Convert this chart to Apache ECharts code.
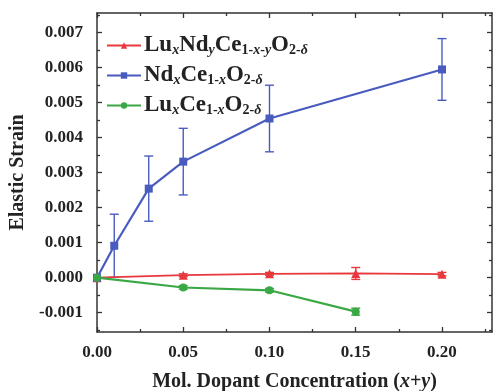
<!DOCTYPE html>
<html>
<head>
<meta charset="utf-8">
<script src="https://cdn.jsdelivr.net/npm/echarts@6/dist/echarts.min.js"></script>
<style>
  html, body { margin: 0; padding: 0; background: #fff; }
  #main { width: 494px; height: 391px; }
</style>
</head>
<body>
<div id="main"></div>
<script>
// data
var ndX = [0, 0.01, 0.03, 0.05, 0.10, 0.20];
var ndY = [0, 0.00091, 0.00254, 0.00331, 0.00454, 0.00594];
var ndErr = [0, 0.00090, 0.00093, 0.00095, 0.00095, 0.00088];

var luNdX = [0, 0.05, 0.10, 0.15, 0.20];
var luNdY = [0, 0.00007, 0.00011, 0.00012, 0.00010];
var luNdErr = [0, 0.00004, 0.00004, 0.00017, 0.00005];

var luX = [0, 0.05, 0.10, 0.15];
var luY = [0, -0.00028, -0.00036, -0.00097];
var luErr = [0, 0.00005, 0.00005, 0.00010];

var xTicks = [0, 0.05, 0.10, 0.15, 0.20];
var xMinorTicks = [0.025, 0.075, 0.125, 0.175, 0.225];
var yTicks = [-0.001, 0, 0.001, 0.002, 0.003, 0.004, 0.005, 0.006, 0.007];
var yMinorTicks = [-0.0015, -0.0005, 0.0005, 0.0015, 0.0025, 0.0035, 0.0045, 0.0055, 0.0065, 0.0075];

var RED = '#e8383d', BLUE = '#4a5bbf', GREEN = '#3aa844';
var FONT = 'Liberation Serif';

function pairs(xs, ys) {
    var out = [];
    for (var i = 0; i < xs.length; i++) out.push([xs[i], ys[i]]);
    return out;
}
function errData(xs, ys, es) {
    var out = [];
    for (var i = 0; i < xs.length; i++) {
        if (es[i] > 0) out.push([xs[i], ys[i] - es[i], ys[i] + es[i]]);
    }
    return out;
}
function errSeries(data, color) {
    return {
        type: 'custom',
        xAxisIndex: 0, yAxisIndex: 0,
        data: data,
        silent: true,
        z: 1,
        renderItem: function (params, api) {
            var lo = api.coord([api.value(0), api.value(1)]);
            var hi = api.coord([api.value(0), api.value(2)]);
            var w = 4.5;
            var st = { stroke: color, lineWidth: 1.4 };
            return {
                type: 'group',
                children: [
                    { type: 'line', shape: { x1: lo[0], y1: lo[1], x2: hi[0], y2: hi[1] }, style: st },
                    { type: 'line', shape: { x1: lo[0] - w, y1: lo[1], x2: lo[0] + w, y2: lo[1] }, style: st },
                    { type: 'line', shape: { x1: hi[0] - w, y1: hi[1], x2: hi[0] + w, y2: hi[1] }, style: st }
                ]
            };
        }
    };
}

var fmtNum = function (v) {
    return v < 0 ? '-' + Math.abs(v).toFixed(3) : v.toFixed(3);
};

var baseAxisLine = { show: true, onZero: false, lineStyle: { color: '#333', width: 1.5 } };
var noAxisLine = { show: false, onZero: false };
var labelStyle = { fontFamily: FONT, fontWeight: 'bold', fontSize: 17, color: '#222' };
var tickStyle = { color: '#333', width: 1.3 };

var subSt = { fontFamily: FONT, fontWeight: 'bold', fontSize: 14, color: '#222', padding: [9, 0, 0, 0] };
var rich = {
    m: { fontFamily: FONT, fontWeight: 'bold', fontSize: 23, color: '#222' },
    s: subSt,
    i: Object.assign({}, subSt, { fontStyle: 'italic' })
};
var legendNames = {
    'LuNd': '{m|Lu}{i|x}{m|Nd}{i|y}{m|Ce}{s|1-}{i|x}{s|-}{i|y}{m|O}{s|2-}{i|δ}',
    'Nd': '{m|Nd}{i|x}{m|Ce}{s|1-}{i|x}{m|O}{s|2-}{i|δ}',
    'Lu': '{m|Lu}{i|x}{m|Ce}{s|1-}{i|x}{m|O}{s|2-}{i|δ}'
};

var chart = echarts.init(document.getElementById('main'));
var option = {
    backgroundColor: '#fff',
    animation: false,
    grid: { left: 97, top: 13, right: 2, bottom: 59, containLabel: false, outerBoundsMode: 'none' },
    legend: {
        orient: 'vertical',
        left: 101,
        top: 29,
        itemGap: 7,
        itemWidth: 34,
        itemHeight: 8,
        data: ['LuNd', 'Nd', 'Lu'],
        formatter: function (name) { return legendNames[name]; },
        textStyle: { rich: rich, padding: [0, 0, 0, -2] }
    },
    xAxis: [{
        type: 'value', min: 0, max: 0.229, position: 'bottom',
        name: '{b|Mol. Dopant Concentration (}{bi|x}{b|+}{bi|y}{b|)}',
        nameLocation: 'middle', nameGap: 40,
        nameTextStyle: {
            rich: {
                b: { fontFamily: FONT, fontWeight: 'bold', fontSize: 20, color: '#222' },
                bi: { fontFamily: FONT, fontWeight: 'bold', fontStyle: 'italic', fontSize: 20, color: '#222' }
            }
        },
        axisLine: baseAxisLine,
        axisTick: { inside: true, length: 5, customValues: xTicks, lineStyle: tickStyle },
        axisLabel: Object.assign({ customValues: xTicks, margin: 12, formatter: function (v) { return v.toFixed(2); } }, labelStyle),
        splitLine: { show: false }
    }, {
        type: 'value', min: 0, max: 0.229, position: 'bottom',
        axisLine: noAxisLine,
        axisTick: { inside: true, length: 3, customValues: xMinorTicks, lineStyle: tickStyle },
        axisLabel: { show: false }, splitLine: { show: false }
    }, {
        type: 'value', min: 0, max: 0.229, position: 'top',
        axisLine: baseAxisLine,
        axisTick: { inside: true, length: 5, customValues: xTicks, lineStyle: tickStyle },
        axisLabel: { show: false }, splitLine: { show: false }
    }, {
        type: 'value', min: 0, max: 0.229, position: 'top',
        axisLine: noAxisLine,
        axisTick: { inside: true, length: 3, customValues: xMinorTicks, lineStyle: tickStyle },
        axisLabel: { show: false }, splitLine: { show: false }
    }],
    yAxis: [{
        type: 'value', min: -0.00155, max: 0.00755, position: 'left',
        name: 'Elastic Strain', nameLocation: 'middle', nameGap: 65,
        nameTextStyle: { fontFamily: FONT, fontWeight: 'bold', fontSize: 20, color: '#222' },
        axisLine: baseAxisLine,
        axisTick: { inside: true, length: 5, customValues: yTicks, lineStyle: tickStyle },
        axisLabel: Object.assign({ customValues: yTicks, margin: 14, formatter: fmtNum }, labelStyle),
        splitLine: { show: false }
    }, {
        type: 'value', min: -0.00155, max: 0.00755, position: 'left',
        axisLine: noAxisLine,
        axisTick: { inside: true, length: 3, customValues: yMinorTicks, lineStyle: tickStyle },
        axisLabel: { show: false }, splitLine: { show: false }
    }, {
        type: 'value', min: -0.00155, max: 0.00755, position: 'right',
        axisLine: baseAxisLine,
        axisTick: { inside: true, length: 5, customValues: yTicks, lineStyle: tickStyle },
        axisLabel: { show: false }, splitLine: { show: false }
    }, {
        type: 'value', min: -0.00155, max: 0.00755, position: 'right',
        axisLine: noAxisLine,
        axisTick: { inside: true, length: 3, customValues: yMinorTicks, lineStyle: tickStyle },
        axisLabel: { show: false }, splitLine: { show: false }
    }],
    series: [
        {
            name: 'LuNd', type: 'line', data: pairs(luNdX, luNdY),
            symbol: 'triangle', symbolSize: 9,
            itemStyle: { color: RED }, lineStyle: { color: RED, width: 1.8 }, z: 3
        },
        {
            name: 'Nd', type: 'line', data: pairs(ndX, ndY),
            symbol: 'rect', symbolSize: 8,
            itemStyle: { color: BLUE }, lineStyle: { color: BLUE, width: 2.2 }, z: 3
        },
        {
            name: 'Lu', type: 'line', data: pairs(luX, luY),
            symbol: 'circle', symbolSize: 8,
            itemStyle: { color: GREEN }, lineStyle: { color: GREEN, width: 2.2 }, z: 3
        },
        errSeries(errData(ndX, ndY, ndErr), BLUE),
        errSeries(errData(luNdX, luNdY, luNdErr), RED),
        errSeries(errData(luX, luY, luErr), GREEN)
    ]
};
chart.setOption(option);
</script>
</body>
</html>
